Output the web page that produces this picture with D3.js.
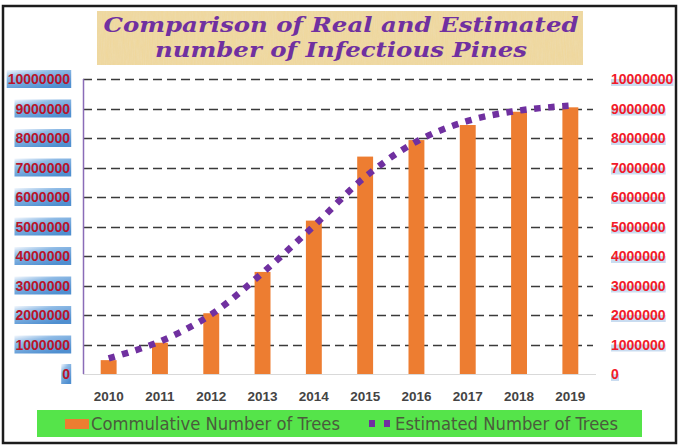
<!DOCTYPE html>
<html><head><meta charset="utf-8">
<script src="https://cdn.jsdelivr.net/npm/d3@7"></script>
<style>html,body{margin:0;padding:0;background:#fff;}svg{display:block;}</style>
</head><body>
<svg id="c" width="685" height="448"></svg>
<script>
const years = ["2010","2011","2012","2013","2014","2015","2016","2017","2018","2019"];
const realTrees = [470000, 1060000, 2060000, 3460000, 5200000, 7370000, 7930000, 8440000, 8890000, 9040000];
const estimatedTrees = [530000, 1100000, 2020000, 3430000, 5020000, 6680000, 7880000, 8580000, 8930000, 9100000];
const yTicks = [0,1000000,2000000,3000000,4000000,5000000,6000000,7000000,8000000,9000000,10000000];
const titleLines = ["Comparison of Real and Estimated","number of Infectious Pines"];
const legendLabels = ["Commulative Number of Trees","Estimated Number of Trees"];

const svg = d3.select("#c");
const defs = svg.append("defs");

// parchment texture
const f = defs.append("filter").attr("id","paper").attr("x",0).attr("y",0).attr("width",1).attr("height",1);
f.append("feTurbulence").attr("type","fractalNoise").attr("baseFrequency","0.9 0.08").attr("numOctaves",2).attr("seed",3).attr("result","n");
f.append("feColorMatrix").attr("in","n").attr("type","matrix")
 .attr("values","0 0 0 0 0.85  0 0 0 0 0.72  0 0 0 0 0.45  0 0 0 -0.9 0.75").attr("result","t");
f.append("feComposite").attr("in","t").attr("in2","SourceGraphic").attr("operator","in");

const g1 = defs.append("linearGradient").attr("id","lblgrad").attr("x1",0).attr("y1",0).attr("x2",0.6).attr("y2",1);
g1.append("stop").attr("offset","0").attr("stop-color","#f4f8fd");
g1.append("stop").attr("offset","0.35").attr("stop-color","#8fbbe6");
g1.append("stop").attr("offset","1").attr("stop-color","#4f8fd0");

// frame
svg.append("rect").attr("x",3).attr("y",6).attr("width",673).attr("height",437)
  .attr("fill","#fff").attr("stroke","#1c1c1c").attr("stroke-width",2.5);

// title box
svg.append("rect").attr("x",97).attr("y",11).attr("width",486).attr("height",54).attr("fill","#efd79c");
svg.append("rect").attr("x",97).attr("y",11).attr("width",486).attr("height",54).attr("fill","#efd79c").attr("filter","url(#paper)").attr("opacity",0.9);
const titleW = [475, 372];
const titleY = [32, 57];
svg.selectAll("text.title").data(titleLines).join("text")
  .attr("class","title")
  .attr("x",341).attr("y",(d,i)=>titleY[i])
  .attr("text-anchor","middle")
  .attr("textLength",(d,i)=>titleW[i]).attr("lengthAdjust","spacingAndGlyphs")
  .attr("font-family","'DejaVu Serif', serif").attr("font-weight","bold").attr("font-style","italic")
  .attr("font-size",21).attr("fill","#7030a0")
  .text(d=>d);

// scales
const x = d3.scaleBand().domain(years).range([83,596]).paddingInner(0.69).paddingOuter(0.345);
const y = d3.scaleLinear().domain([0,10000000]).range([374,79]);

// gridlines
svg.append("g").selectAll("line").data(yTicks.filter(d=>d>0)).join("line")
  .attr("x1",83).attr("x2",593).attr("y1",d=>Math.round(y(d))+0.5).attr("y2",d=>Math.round(y(d))+0.5)
  .attr("stroke","#3a3a3a").attr("stroke-width",1.5).attr("stroke-dasharray","9 5");

// bottom axis line
svg.append("line").attr("x1",83).attr("x2",596).attr("y1",374.5).attr("y2",374.5).attr("stroke","#d9d9d9").attr("stroke-width",1.2);

// bars
svg.append("g").selectAll("rect").data(realTrees).join("rect")
  .attr("x",(d,i)=>x(years[i])).attr("width",x.bandwidth())
  .attr("y",d=>y(d)).attr("height",d=>y(0)-y(d))
  .attr("fill","#ed7d31");

// left axis line
svg.append("line").attr("x1",83.5).attr("x2",83.5).attr("y1",79).attr("y2",374).attr("stroke","#8a6cb8").attr("stroke-width",1.5);

// estimated line
const line = d3.line().x((d,i)=>x(years[i])+x.bandwidth()/2).y(d=>y(d)).curve(d3.curveCatmullRom.alpha(0.5));
svg.append("path").datum(estimatedTrees).attr("d",line)
  .attr("fill","none").attr("stroke","#7030a0").attr("stroke-width",6.5).attr("stroke-dasharray","6.5 7.5");

// left labels with gradient boxes
const fmt = d3.format("d");
const leftG = svg.append("g");
yTicks.forEach(v=>{
  const t = leftG.append("text").attr("x",70).attr("y",y(v)+5)
    .attr("text-anchor","end").attr("font-family","'Liberation Sans', Arial, sans-serif")
    .attr("font-weight","bold").attr("font-size",14).attr("fill","#b8142a").text(fmt(v));
  const bb = t.node().getBBox();
  const hh = v===0 ? 20 : 18;
  leftG.insert("rect","text").attr("x",bb.x-1).attr("y",y(v)-hh/2).attr("width",bb.width+2).attr("height",hh)
    .attr("fill","url(#lblgrad)");
});

// right labels
const rightG = svg.append("g");
yTicks.forEach(v=>{
  const t = rightG.append("text").attr("x",611).attr("y",y(v)+5)
    .attr("text-anchor","start").attr("font-family","'Liberation Sans', Arial, sans-serif")
    .attr("font-weight","bold").attr("font-size",14).attr("fill","#f21b2a").text(fmt(v));
  const bb = t.node().getBBox();
  rightG.insert("rect","text").attr("x",bb.x).attr("y",y(v)).attr("width",bb.width).attr("height",7)
    .attr("fill","#c9dcf0");
});

// x labels
svg.append("g").selectAll("text").data(years).join("text")
  .attr("x",d=>x(d)+x.bandwidth()/2).attr("y",401).attr("text-anchor","middle")
  .attr("font-family","'Liberation Sans', Arial, sans-serif").attr("font-weight","bold")
  .attr("font-size",13.5).attr("fill","#444").text(d=>d);

// legend
svg.append("rect").attr("x",37).attr("y",410).attr("width",605).attr("height",27).attr("fill","#55e44a");
svg.append("rect").attr("x",65).attr("y",419).attr("width",24).attr("height",10).attr("fill","#ed7d31");
svg.append("line").attr("x1",369).attr("x2",391).attr("y1",423.5).attr("y2",423.5)
  .attr("stroke","#7030a0").attr("stroke-width",7).attr("stroke-dasharray","6 9");
const legX = [91, 395], legW = [249, 223];
svg.selectAll("text.leg").data(legendLabels).join("text").attr("class","leg")
  .attr("x",(d,i)=>legX[i]).attr("y",430)
  .attr("textLength",(d,i)=>legW[i]).attr("lengthAdjust","spacingAndGlyphs")
  .attr("font-family","'DejaVu Sans Condensed','DejaVu Sans',sans-serif").attr("font-stretch","condensed")
  .attr("font-size",17.5).attr("fill","#4a5c3c").text(d=>d);
</script>
</body></html>
